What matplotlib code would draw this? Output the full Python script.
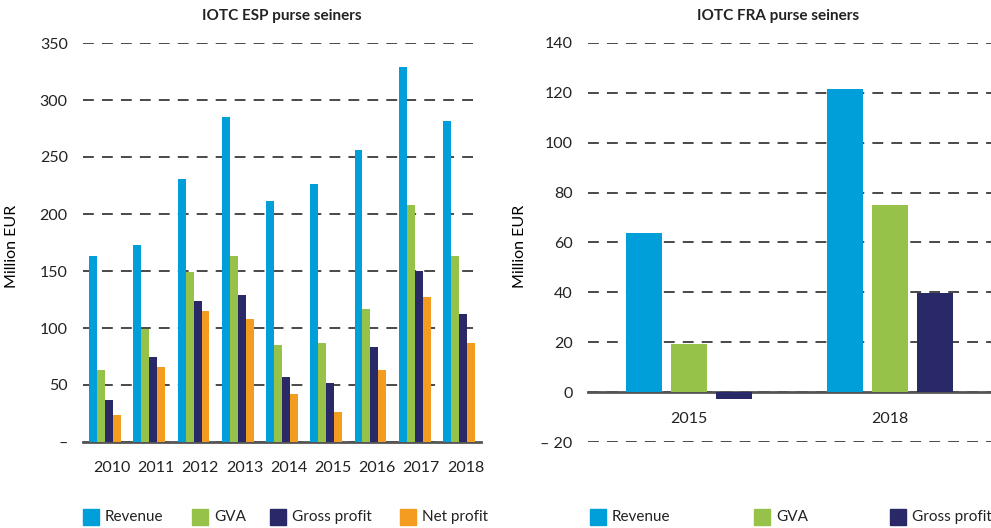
import numpy as np
import matplotlib
matplotlib.use('Agg')
import matplotlib.pyplot as plt
from matplotlib.patches import Rectangle

plt.rcParams['font.family'] = ['Lato', 'DejaVu Sans']

# ESP purse seiners (million EUR)
esp_years = ['2010', '2011', '2012', '2013', '2014', '2015', '2016', '2017', '2018']
esp_revenue = [163, 173, 231, 285, 211, 226, 256, 329, 282]
esp_gva = [63, 99, 149, 163, 85, 87, 117, 208, 163]
esp_gross = [37, 75, 124, 129, 57, 52, 83, 150, 112]
esp_net = [24, 66, 115, 108, 42, 26, 63, 127, 87]

# FRA purse seiners (million EUR)
fra_years = ['2015', '2018']
fra_revenue = [63.7, 121.6]
fra_gva = [19.4, 75.0]
fra_gross = [-2.6, 39.7]

C_REV = '#009fda'
C_GVA = '#97c24a'
C_GROSS = '#282966'
C_NET = '#f39c1f'
GRID = '#3a3a3a'
ZERO = '#555555'

W, H = 991, 528
fig = plt.figure(figsize=(W / 100, H / 100), dpi=100)


def style_axes(ax, yticks, ylabels):
    for s in ['top', 'right', 'left']:
        ax.spines[s].set_visible(False)
    ax.spines['bottom'].set_position(('data', 0))
    ax.spines['bottom'].set_color(ZERO)
    ax.spines['bottom'].set_linewidth(2)
    ax.spines['bottom'].set_zorder(1)
    ax.set_yticks(yticks)
    ax.set_yticklabels(ylabels)
    ax.tick_params(axis='both', length=0, labelsize=11.5, colors='#222222')
    ax.tick_params(axis='y', pad=11)
    ax.tick_params(axis='x', pad=14)
    ax.yaxis.grid(True, color=GRID, linestyle=(0, (6, 4.5)), linewidth=1.3)
    ax.set_axisbelow(True)


# left panel
ax1 = fig.add_axes([83 / W, 1 - 442 / H, 398 / W, 399 / H])
x = np.arange(len(esp_years))
bw = 0.18
for k, (vals, col) in enumerate([(esp_revenue, C_REV), (esp_gva, C_GVA),
                                 (esp_gross, C_GROSS), (esp_net, C_NET)]):
    ax1.bar(x + (k - 1.5) * bw, vals, bw, color=col, zorder=2)
ax1.set_xlim(-0.5, len(esp_years) - 0.5)
ax1.set_ylim(0, 350)
ax1.set_xticks(x + 0.15)
ax1.set_xticklabels(esp_years)
yt = np.arange(0, 351, 50)
style_axes(ax1, yt, ['–'] + [str(v) for v in yt[1:]])
ax1.set_ylabel('Million EUR', fontsize=11.5)
ax1.yaxis.set_label_coords((19 - 83) / 398, (442 - 246) / 399)
fig.text(282 / W, 1 - 16 / H, 'IOTC ESP purse seiners', ha='center', va='center',
         fontsize=11, fontweight='bold', color='#222222')

# right panel
ax2 = fig.add_axes([588 / W, 1 - 442 / H, 403 / W, 399 / H])
x2 = np.arange(len(fra_years))
step = 0.223
bw2 = 0.179
for k, (vals, col) in enumerate([(fra_revenue, C_REV), (fra_gva, C_GVA),
                                 (fra_gross, C_GROSS)]):
    ax2.bar(x2 + (k - 1) * step, vals, bw2, color=col, zorder=2)
ax2.set_xlim(-0.5, len(fra_years) - 0.5)
ax2.set_ylim(-20, 140)
ax2.set_xticks(x2)
ax2.set_xticklabels(fra_years)
yt2 = np.arange(-20, 141, 20)
style_axes(ax2, yt2, ['– 20'] + [str(v) for v in yt2[1:]])
ax2.set_ylabel('Million EUR', fontsize=11.5)
ax2.yaxis.set_label_coords((527 - 588) / 403, (442 - 246) / 399)
fig.text(778 / W, 1 - 16 / H, 'IOTC FRA purse seiners', ha='center', va='center',
         fontsize=11, fontweight='bold', color='#222222')

# legends
def legend_item(xpx, col, label):
    y0 = 1 - 525 / H
    fig.patches.append(Rectangle((xpx / W, y0), 16 / W, 16 / H, color=col,
                                 transform=fig.transFigure, figure=fig))
    fig.text((xpx + 22) / W, y0 + 8 / H, label, ha='left', va='center',
             fontsize=11, color='#222222')

for xpx, col, lab in [(83, C_REV, 'Revenue'), (192, C_GVA, 'GVA'),
                      (270, C_GROSS, 'Gross profit'), (400, C_NET, 'Net profit'),
                      (590, C_REV, 'Revenue'), (754, C_GVA, 'GVA'),
                      (890, C_GROSS, 'Gross profit')]:
    legend_item(xpx, col, lab)

fig.savefig('out.png', dpi=100)
